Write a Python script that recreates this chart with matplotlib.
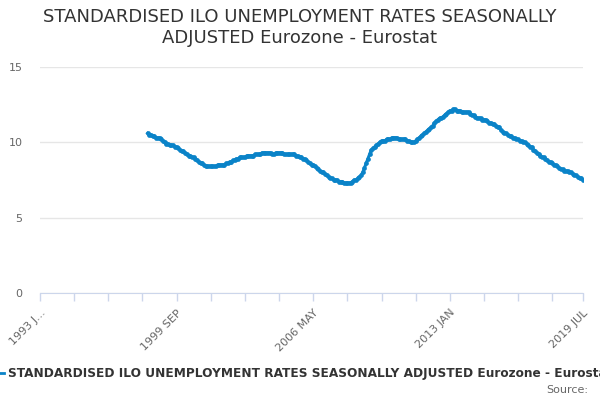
import matplotlib
matplotlib.use("Agg")
import matplotlib.pyplot as plt
from matplotlib.lines import Line2D

# monthly rate, first value is 1998 APR, last is 2019 JUL
rate = [
    10.6, 10.5, 10.5, 10.4, 10.4, 10.3, 10.3, 10.3, 10.2,                  # 1998
    10.1, 10.0, 9.9, 9.9, 9.8, 9.8, 9.8, 9.7, 9.7, 9.6, 9.5, 9.4,          # 1999
    9.4, 9.3, 9.2, 9.1, 9.1, 9.0, 9.0, 8.9, 8.8, 8.7, 8.6, 8.6,            # 2000
    8.5, 8.4, 8.4, 8.4, 8.4, 8.4, 8.4, 8.4, 8.5, 8.5, 8.5, 8.5,            # 2001
    8.5, 8.6, 8.6, 8.7, 8.7, 8.8, 8.8, 8.9, 8.9, 9.0, 9.0, 9.0,            # 2002
    9.0, 9.1, 9.1, 9.1, 9.1, 9.1, 9.2, 9.2, 9.2, 9.2, 9.3, 9.3,            # 2003
    9.3, 9.3, 9.3, 9.3, 9.2, 9.2, 9.3, 9.3, 9.3, 9.3, 9.3, 9.2,            # 2004
    9.2, 9.2, 9.2, 9.2, 9.2, 9.2, 9.1, 9.1, 9.0, 9.0, 8.9, 8.9,            # 2005
    8.8, 8.7, 8.6, 8.5, 8.5, 8.4, 8.3, 8.2, 8.1, 8.0, 8.0, 7.9,            # 2006
    7.8, 7.7, 7.6, 7.6, 7.5, 7.5, 7.5, 7.4, 7.4, 7.4, 7.3, 7.3,            # 2007
    7.3, 7.3, 7.3, 7.4, 7.5, 7.5, 7.6, 7.7, 7.8, 8.0, 8.3, 8.6,            # 2008
    8.9, 9.2, 9.5, 9.6, 9.7, 9.8, 9.9, 10.0, 10.1, 10.1, 10.1, 10.2,       # 2009
    10.2, 10.2, 10.3, 10.3, 10.3, 10.3, 10.2, 10.2, 10.2, 10.2, 10.2, 10.1,  # 2010
    10.1, 10.0, 10.0, 10.0, 10.1, 10.2, 10.3, 10.4, 10.5, 10.6, 10.7, 10.8,  # 2011
    10.9, 11.0, 11.1, 11.3, 11.4, 11.5, 11.6, 11.6, 11.7, 11.8, 11.9, 12.0,  # 2012
    12.1, 12.1, 12.2, 12.2, 12.1, 12.1, 12.1, 12.0, 12.0, 12.0, 12.0, 12.0,  # 2013
    11.9, 11.8, 11.8, 11.7, 11.6, 11.6, 11.6, 11.5, 11.5, 11.5, 11.4, 11.3,  # 2014
    11.3, 11.2, 11.2, 11.1, 11.0, 11.0, 10.8, 10.7, 10.6, 10.6, 10.5, 10.4,  # 2015
    10.4, 10.3, 10.3, 10.2, 10.2, 10.1, 10.1, 10.0, 10.0, 9.9, 9.8, 9.7,   # 2016
    9.7, 9.5, 9.4, 9.3, 9.2, 9.1, 9.0, 9.0, 8.9, 8.8, 8.7, 8.7,            # 2017
    8.6, 8.5, 8.5, 8.4, 8.3, 8.2, 8.2, 8.1, 8.1, 8.1, 8.0, 8.0,            # 2018
    7.9, 7.8, 7.8, 7.7, 7.6, 7.6, 7.5,                                     # 2019
]
first_month = 63   # months after 1993 JAN
last_month = 318   # 2019 JUL
tick_months = list(range(0, 301, 20)) + [318]
label_months = [0, 80, 160, 240, 318]
label_text = ["1993 J...", "1999 SEP", "2006 MAY", "2013 JAN", "2019 JUL"]
y_ticks = [0, 5, 10, 15]

title = "STANDARDISED ILO UNEMPLOYMENT RATES SEASONALLY\nADJUSTED Eurozone - Eurostat"
series_name = "STANDARDISED ILO UNEMPLOYMENT RATES SEASONALLY ADJUSTED Eurozone - Eurostat"
blue = "#0a83c8"

months = list(range(first_month, first_month + len(rate)))

fig = plt.figure(figsize=(6, 4), dpi=100)
ax = fig.add_axes([40/600, 1 - 293/400, 543/600, 226/400])
ax.plot(months, rate, color=blue, lw=2.2, marker="o", ms=3.4, mew=0, zorder=3)

ax.set_xlim(0, last_month)
ax.set_ylim(0, 15)
ax.set_yticks(y_ticks)
ax.set_xticks(tick_months)
ax.set_xticklabels([label_text[label_months.index(m)] if m in label_months else "" for m in tick_months],
                   rotation=45, ha="right", va="top", rotation_mode="anchor")
ax.grid(axis="y", color="#e6e6e6", lw=1)
ax.set_axisbelow(True)
for s in ["top", "right", "left"]:
    ax.spines[s].set_visible(False)
ax.spines["bottom"].set_color("#ccd6eb")
ax.tick_params(axis="x", colors="#ccd6eb", length=5.5, width=1, labelcolor="#666666", labelsize=8, pad=5)
ax.tick_params(axis="y", length=0, labelcolor="#666666", labelsize=8, pad=12.5)

fig.text(0.5, 1 - 8/400, title, ha="center", va="top", fontsize=13, color="#333333", linespacing=1.2)

# legend, cut by the figure edges as in the source
fig.add_artist(Line2D([-10/600, 4/600], [1 - 373/400] * 2, color=blue, lw=2, transform=fig.transFigure))
fig.text(8/600, 1 - 373/400, series_name, ha="left", va="center", fontsize=8.7, fontweight="bold", color="#333333")
fig.text(588/600, 1 - 390/400, "Source:", ha="right", va="center", fontsize=8, color="#666666")

fig.savefig("out.png", dpi=100)
